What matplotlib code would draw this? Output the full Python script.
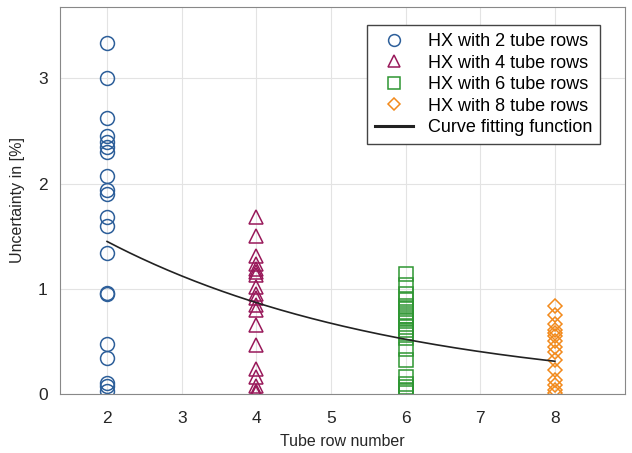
import numpy as np
import matplotlib.pyplot as plt

plt.rcParams['font.family'] = ['Liberation Sans', 'DejaVu Sans']

# Measured uncertainties per heat exchanger configuration
unc_2rows = [3.34, 3.00, 2.62, 2.45, 2.40, 2.35, 2.30, 2.07, 1.94, 1.90,
             1.68, 1.60, 1.34, 0.96, 0.95, 0.48, 0.34, 0.11, 0.08, 0.03]
unc_4rows = [1.68, 1.50, 1.31, 1.24, 1.19, 1.16, 1.13, 1.02, 0.95, 0.91,
             0.85, 0.80, 0.66, 0.47, 0.24, 0.16, 0.08, 0.03, 0.01]
unc_6rows = [1.14, 1.04, 0.95, 0.89, 0.84, 0.81, 0.78, 0.74, 0.72, 0.69,
             0.64, 0.61, 0.58, 0.53, 0.43, 0.32, 0.16, 0.10, 0.07, 0.04, 0.01]
unc_8rows = [0.84, 0.75, 0.67, 0.61, 0.58, 0.55, 0.50, 0.45, 0.40, 0.32,
             0.23, 0.13, 0.09, 0.04, 0.01]

# Curve fit parameters: u = a * exp(b * n)
fit_a, fit_b = 2.42, -0.256

series = [
    (2, unc_2rows, 'o', '#2d5f9a', 'HX with 2 tube rows'),
    (4, unc_4rows, '^', '#99195a', 'HX with 4 tube rows'),
    (6, unc_6rows, 's', '#2e9632', 'HX with 6 tube rows'),
    (8, unc_8rows, 'D', '#f28a1c', 'HX with 8 tube rows'),
]

fig = plt.figure(figsize=(6.32, 4.53), dpi=100)
ax = fig.add_axes([0.095, 0.13, 0.894, 0.855])

for n, vals, m, c, lab in series:
    ms = 7.5 if m == 'D' else 10
    ax.plot([n] * len(vals), vals, linestyle='none', marker=m, ms=ms,
            mfc='none', mec=c, mew=1.1, label=lab)

n_fit = np.linspace(2, 8, 200)
ax.plot(n_fit, fit_a * np.exp(fit_b * n_fit), color='#222222', lw=1.2,
        label='Curve fitting function')

ax.set_xlim(1.37, 8.94)
ax.set_ylim(0, 3.68)
ax.set_xticks(range(2, 9))
ax.set_yticks(range(0, 4))
ax.grid(True, color='#e3e3e3', lw=0.8)
ax.set_axisbelow(True)
for s in ax.spines.values():
    s.set_color('#888888')
ax.tick_params(length=0, labelsize=12.5, colors='#262626')
ax.tick_params(axis='x', pad=12)
ax.tick_params(axis='y', pad=9)

ax.set_xlabel('Tube row number', fontsize=11.5, labelpad=6, color='#262626')
ax.set_ylabel('Uncertainty in [%]', fontsize=11.5, labelpad=9, color='#262626')

leg = ax.legend(loc='upper right', bbox_to_anchor=(0.956, 0.953),
                fontsize=13, fancybox=False, edgecolor='#444444',
                framealpha=1, handlelength=2.1, handletextpad=0.8,
                labelspacing=0.25, borderpad=0.45, markerscale=0.85,
                borderaxespad=0)
leg.get_frame().set_linewidth(1.0)
leg.get_lines()[-1].set_linewidth(2.2)

fig.savefig('out.png', dpi=100)
